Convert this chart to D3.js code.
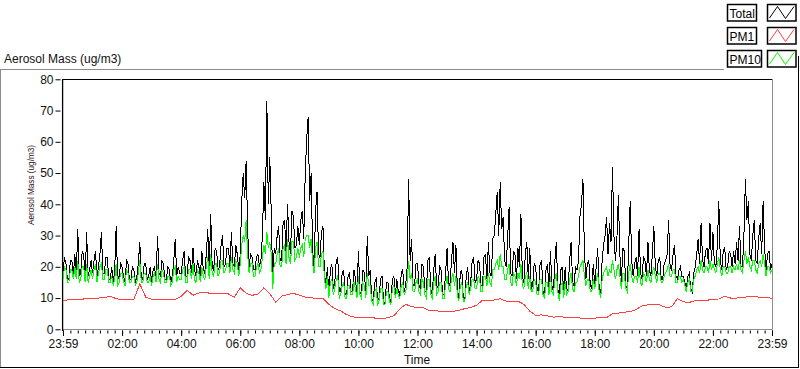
<!DOCTYPE html>
<html><head><meta charset="utf-8">
<script src="https://cdn.jsdelivr.net/npm/d3@7/dist/d3.min.js"></script>
<style>
body{margin:0;background:#fff;}
svg{display:block;font-family:"Liberation Sans",Arial,sans-serif;}
</style>
</head><body>
<svg id="chart" width="800" height="369"></svg>
<script>
// ---- data (minutes after 23:59 start) ----
const seriesNames = ["Total", "PM1", "PM10"];
const totalStepMin = 3;
const totalMass = [
 18,23,21,16,16,22,22,17,24,18,32,17,18,25,24,16,31,17,19,22,
 18,22,25,17,20,24,31,18,18,23,23,16,16,20,15,19,33,16,17,21,
 20,17,15,22,21,16,16,20,19,15,17,21,28,16,16,21,21,16,17,20,
 15,19,20,16,30,18,17,22,21,16,16,20,19,15,17,22,29,17,20,18,
 18,22,25,17,17,23,22,18,26,19,17,22,20,17,25,19,18,24,32,18,
 37,20,19,26,25,19,20,27,30,20,21,26,26,20,31,21,20,27,24,19,
 24,41,50,42,54,32,20,24,23,19,19,23,24,20,22,30,47,35,73,40,
 55,37,14,26,24,30,33,22,22,34,35,25,40,28,24,38,36,26,27,33,
 27,35,38,29,50,61,68,41,50,25,20,38,44,24,23,31,33,18,14,20,
 11,19,21,13,15,22,23,12,12,18,19,11,11,17,18,12,12,19,16,11,
 25,12,11,19,18,12,30,17,19,10,9,15,16,9,10,16,17,9,8,15,
 15,10,9,16,17,11,16,12,11,18,19,12,14,20,48,22,29,14,14,21,
 21,14,13,21,20,12,12,22,23,13,11,19,24,13,14,20,19,11,11,18,
 26,15,14,22,28,18,27,13,10,18,19,10,9,17,20,12,15,22,23,15,
 16,22,21,14,14,23,24,16,28,18,17,29,30,37,44,30,47,32,36,22,
 20,29,39,18,17,25,24,16,26,20,37,17,15,24,28,16,26,13,14,21,
 20,13,12,21,22,12,11,19,21,13,25,14,12,22,28,13,10,19,20,11,
 20,12,13,22,28,15,14,20,19,22,36,40,48,25,16,21,22,14,13,21,
 14,20,26,13,10,22,27,30,36,24,34,28,52,30,22,29,43,24,15,26,
 25,14,13,27,41,22,17,21,23,17,32,18,16,23,22,17,28,19,17,24,
 33,20,17,22,23,16,16,21,22,24,35,20,19,24,27,17,16,19,20,17,
 17,15,13,17,18,13,12,18,20,24,29,21,34,22,20,25,26,21,34,22,
 31,21,20,27,41,22,19,25,26,19,20,25,24,20,25,21,28,22,33,20,
 20,30,48,35,41,24,22,30,35,22,21,29,34,24,41,26,19,24,25,19,21
];
const pm10StepMin = 3;
const pm10Mass = [
 16,20,19,15,15,19,19,16,20,16,22,15,16,20,20,15,21,15,17,19,
 16,19,21,15,18,20,21,16,16,19,19,15,15,17,14,16,21,14,15,18,
 18,15,14,19,18,15,15,17,17,14,15,18,22,15,15,18,18,15,15,17,
 14,17,18,15,21,16,15,19,18,15,15,17,17,14,15,19,20,15,17,16,
 16,19,20,15,15,19,19,16,21,16,15,19,18,15,20,17,16,20,23,16,
 24,18,17,21,21,17,18,22,22,18,19,21,21,18,23,19,18,22,21,17,
 21,27,30,28,35,24,18,21,21,17,17,20,21,18,19,23,27,24,31,26,
 28,24,13,21,21,24,26,20,20,26,27,21,29,23,21,28,28,22,23,26,
 23,26,27,23,29,30,30,26,29,21,18,26,28,20,20,24,25,16,13,17,
 10,15,16,11,13,16,17,10,11,14,15,10,10,14,14,11,11,15,13,10,
 17,11,10,15,14,10,18,14,14,9,8,12,13,8,9,13,13,8,8,12,
 12,9,8,13,14,10,13,11,10,14,15,11,12,15,22,16,18,12,12,15,
 16,12,11,16,15,11,10,16,16,11,10,15,17,11,12,15,15,10,10,14,
 17,13,12,16,18,14,17,11,9,14,15,9,9,14,15,11,13,16,16,13,
 13,17,16,12,12,17,17,14,18,15,14,19,19,21,22,19,24,20,20,16,
 16,19,21,15,14,18,17,14,18,16,21,14,13,17,18,13,17,12,12,16,
 15,11,11,16,16,11,10,15,15,11,17,12,11,16,18,12,9,14,15,10,
 15,11,12,16,18,13,12,15,15,17,20,21,22,17,14,16,16,12,12,16,
 13,16,18,12,10,16,18,19,20,17,19,18,22,19,16,19,21,17,13,18,
 18,13,12,18,21,17,15,17,17,15,20,15,14,18,17,15,19,16,15,18,
 20,17,15,18,18,15,15,17,18,19,21,17,17,19,19,15,15,17,17,15,
 16,14,12,15,16,12,12,16,17,19,20,18,22,19,18,20,20,18,22,19,
 21,19,18,21,23,19,17,20,20,18,18,20,20,18,20,19,21,19,22,19,
 18,22,25,21,23,20,19,22,22,19,18,21,22,20,24,21,17,20,20,18,19
];
const pm1StepMin = 12;
const pm1Mass = [
 9.3,9.4,9.5,9.6,9.8,
 10.0,10.0,10.1,10.6,9.8,
 9.5,9.5,9.6,14.6,10.3,
 9.6,9.5,9.4,9.5,9.6,
 10.5,12.5,10.9,11.6,11.8,
 11.5,11.4,11.6,11.3,10.3,
 13.3,11.5,10.9,11.2,13.3,
 11.4,8.7,10.6,11.1,11.5,
 10.9,10.3,10.1,9.8,9.9,
 8.0,6.6,5.9,4.7,4.0,
 3.7,3.8,3.9,3.5,3.4,
 3.7,4.3,6.5,8.0,7.3,
 6.9,6.9,6.0,5.9,5.8,
 5.8,5.7,6.1,6.6,7.0,
 7.7,9.3,9.1,9.4,9.8,
 9.0,9.0,9.0,8.0,5.8,
 4.5,4.6,4.3,3.9,4.0,
 3.9,3.9,3.9,3.4,3.5,
 3.6,3.7,3.7,5.0,5.2,
 5.5,5.6,6.3,7.5,7.8,
 8.0,7.8,7.0,7.2,9.8,
 8.8,8.6,9.2,9.3,9.3,
 9.6,9.7,10.6,10.0,10.0,
 10.2,10.4,10.4,10.3,10.2,9.9
];
const xTickLabels = ["23:59","02:00","04:00","06:00","08:00","10:00","12:00","14:00","16:00","18:00","20:00","22:00","23:59"];
const xMajorStepMin = 120;
const xMinorStepMin = 15;
const spanMinutes = 1440;
const yTicks = [0,10,20,30,40,50,60,70,80];
const chartTitle = "Aerosol Mass (ug/m3)";
const yAxisTitle = "Aerosol Mass (ug/m3)";
const xAxisTitle = "Time";

// ---- styles ----
const colors = {Total:"#000000", PM1:"#ff4040", PM10:"#00ff00"};
const fontTxt = "#111";

const svg = d3.select("#chart");
const x = d3.scaleLinear().domain([0, spanMinutes]).range([63, 772]);
const y = d3.scaleLinear().domain([0, 80]).range([329.3, 79.3]);

// outer panel borders
svg.append("line").attr("x1",0).attr("x2",724).attr("y1",69.5).attr("y2",69.5).attr("stroke","#8c8c8c");
svg.append("line").attr("x1",0.5).attr("x2",0.5).attr("y1",69.5).attr("y2",368).attr("stroke","#8c8c8c");
svg.append("line").attr("x1",798.5).attr("x2",798.5).attr("y1",56).attr("y2",368).attr("stroke","#000");
svg.append("line").attr("x1",0).attr("x2",799).attr("y1",367.5).attr("y2",367.5).attr("stroke","#000");

// title
svg.append("text").attr("x",4).attr("y",63).attr("font-size",12).attr("fill",fontTxt).text(chartTitle);

// plot frame
svg.append("line").attr("x1",62).attr("x2",772.5).attr("y1",79.5).attr("y2",79.5).attr("stroke","#000").attr("stroke-width",1.2);
svg.append("line").attr("x1",772.5).attr("x2",772.5).attr("y1",79).attr("y2",329.5).attr("stroke","#8c8c8c");
svg.append("line").attr("x1",62.5).attr("x2",772.5).attr("y1",329.5).attr("y2",329.5).attr("stroke","#8c8c8c");
svg.append("line").attr("x1",62.6).attr("x2",62.6).attr("y1",79).attr("y2",331).attr("stroke","#000").attr("stroke-width",1.3);

// data lines
const mk = (step) => d3.line().x((d,i)=>x(i*step)).y(d=>y(d));
const plot = svg.append("g");
plot.append("path").datum(totalMass).attr("d", mk(totalStepMin)).attr("fill","none")
  .attr("stroke",colors.Total).attr("stroke-width",1).attr("shape-rendering","crispEdges");
plot.append("path").datum(pm1Mass).attr("d", mk(pm1StepMin)).attr("fill","none")
  .attr("stroke",colors.PM1).attr("stroke-width",1).attr("shape-rendering","crispEdges");
plot.append("path").datum(pm10Mass).attr("d", mk(pm10StepMin)).attr("fill","none")
  .attr("stroke",colors.PM10).attr("stroke-width",1).attr("shape-rendering","crispEdges");

// y axis
const yAxis = d3.axisLeft(y).tickValues(yTicks).tickSize(5).tickPadding(2).tickFormat(d3.format("d"));
const gy = svg.append("g").attr("transform","translate(60.5,0)").call(yAxis);
gy.select(".domain").remove();
gy.selectAll(".tick line").attr("stroke","#000");
gy.selectAll(".tick text").attr("font-size",12).attr("font-family","Liberation Sans, Arial, sans-serif").attr("fill",fontTxt);

// x axis minor
const minorVals = d3.range(0, spanMinutes + 1, xMinorStepMin);
const xMinor = d3.axisBottom(x).tickValues(minorVals).tickSize(3).tickFormat("");
const gxm = svg.append("g").attr("transform","translate(0,330.5)").call(xMinor);
gxm.select(".domain").remove();
gxm.selectAll(".tick line").attr("stroke","#000");

// x axis major
const majorVals = d3.range(0, spanMinutes + 1, xMajorStepMin);
const xMajor = d3.axisBottom(x).tickValues(majorVals).tickSize(5.5).tickPadding(3)
  .tickFormat((d,i)=>xTickLabels[i]);
const gx = svg.append("g").attr("transform","translate(0,330.5)").call(xMajor);
gx.select(".domain").remove();
gx.selectAll(".tick line").attr("stroke","#000");
gx.selectAll(".tick text").attr("font-size",12).attr("font-family","Liberation Sans, Arial, sans-serif").attr("fill",fontTxt);

// axis titles
svg.append("text").attr("x",417).attr("y",364).attr("text-anchor","middle").attr("font-size",12).attr("fill",fontTxt).text(xAxisTitle);
svg.append("text").attr("transform","translate(33.5,185) rotate(-90)").attr("text-anchor","middle")
  .attr("font-size",8.2).attr("fill","#2a1010").text(yAxisTitle);

// legend
const legendTops = [4, 27, 50];
const legendLabelW = {Total:29, PM1:29, PM10:34};
const lg = svg.append("g");
seriesNames.forEach((name, i) => {
  const top = legendTops[i];
  lg.append("rect").attr("x",727.5).attr("y",top+0.5).attr("width",legendLabelW[name]).attr("height",16.5)
    .attr("fill","#fff").attr("stroke","#000").attr("stroke-width",1.5);
  lg.append("text").attr("x",729.5).attr("y",top+13.5).attr("font-size",12).attr("fill","#000").text(name);
  lg.append("rect").attr("x",767.5).attr("y",top+0.5).attr("width",28.5).attr("height",16.5)
    .attr("fill","#fff").attr("stroke","#000").attr("stroke-width",1.5);
  const pts = [[769.5,top+14],[777.5,top+2.5],[785.5,top+14.5],[794,top+2.5]];
  lg.append("path").attr("d", d3.line()(pts)).attr("fill","none").attr("stroke",colors[name]).attr("stroke-width",1);
});
</script>
</body></html>
